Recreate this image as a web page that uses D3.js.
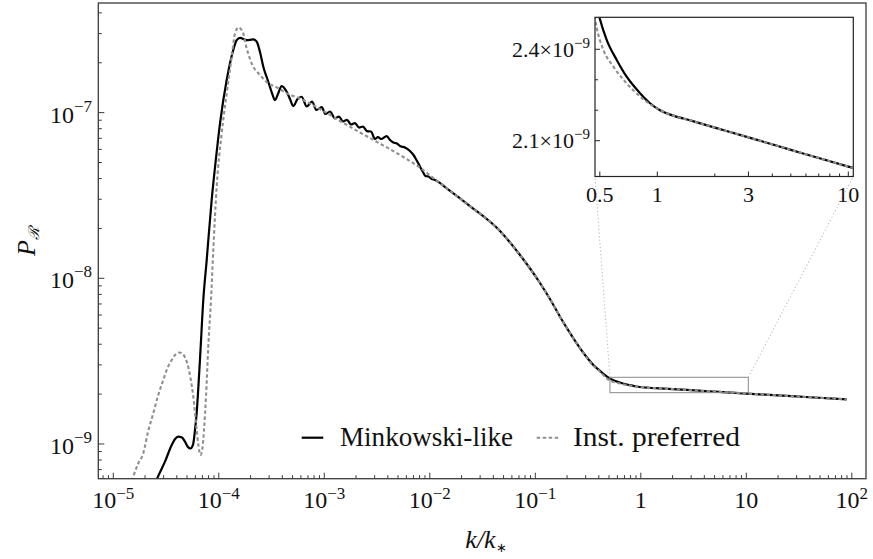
<!DOCTYPE html>
<html><head><meta charset="utf-8">
<script src="https://cdn.jsdelivr.net/npm/d3@7"></script>
<style>body{margin:0;background:#fff}svg{display:block}</style>
</head><body>
<svg id="c" width="873" height="559"></svg>
<script>
// ---- data ----
const kSolid = [2.48e-5,2.61e-5,3.09e-5,3.58e-5,3.85e-5,4.13e-5,4.48e-5,4.78e-5,5.10e-5,5.39e-5,5.69e-5,5.95e-5,6.17e-5,6.42e-5,6.63e-5,7.13e-5,7.68e-5,8.56e-5,9.41e-5,1.027e-4,1.188e-4,1.372e-4,1.478e-4,1.588e-4,1.838e-4,1.975e-4,2.123e-4,2.287e-4,2.458e-4,2.642e-4,2.945e-4,3.193e-4,3.409e-4,3.64e-4,3.946e-4,4.40e-4,4.73e-4,5.083e-4,5.57e-4,6.105e-4,6.81e-4,7.645e-4,8.435e-4,9.45e-4,1.027e-3,1.132e-3,1.263e-3,1.378e-3,1.504e-3,1.641e-3,1.791e-3,1.954e-3,2.132e-3,2.327e-3,2.539e-3,2.772e-3,3.024e-3,3.228e-3,3.447e-3,3.904e-3,4.195e-3,4.508e-3,4.887e-3,5.218e-3,5.818e-3,6.492e-3,7.007e-3,7.565e-3,8.075e-3,8.618e-3,9.10e-3,9.616e-3,1.042e-2,1.12e-2,1.445e-2,2.404e-2,4.628e-2,7.16e-2,0.1108,0.1378,0.1714,0.2042,0.2469,0.2959,0.3548,0.4106,0.468,0.5,0.543,0.613,0.691,0.812,0.916,1.033,1.19,1.5,2,3,5,7,10,20,40,89.5];
const pSolid = [5.73e-10,6.21e-10,7.82e-10,9.86e-10,1.072e-9,1.107e-9,1.094e-9,1.032e-9,9.59e-10,9.39e-10,9.86e-10,1.215e-9,1.532e-9,2.27e-9,3.21e-9,7.40e-9,1.289e-8,2.97e-8,5.32e-8,8.62e-8,1.573e-7,2.387e-7,2.743e-7,2.83e-7,2.743e-7,2.75e-7,2.77e-7,2.68e-7,2.32e-7,1.892e-7,1.536e-7,1.313e-7,1.191e-7,1.295e-7,1.447e-7,1.337e-7,1.208e-7,1.096e-7,1.208e-7,1.247e-7,1.089e-7,1.167e-7,1.037e-7,1.081e-7,9.81e-8,1.016e-7,9.24e-8,9.47e-8,8.84e-8,9.05e-8,8.48e-8,8.65e-8,8.13e-8,8.24e-8,7.74e-8,7.69e-8,6.93e-8,7.12e-8,6.93e-8,7.22e-8,6.83e-8,6.60e-8,6.51e-8,6.29e-8,6.16e-8,5.87e-8,5.55e-8,5.11e-8,4.72e-8,4.38e-8,4.14e-8,4.12e-8,3.98e-8,3.92e-8,3.49e-8,2.73e-8,1.93e-8,1.382e-8,9.37e-9,7.50e-9,5.86e-9,4.88e-9,4.05e-9,3.445e-9,3.0e-9,2.76e-9,2.575e-9,2.50e-9,2.431e-9,2.365e-9,2.31e-9,2.256e-9,2.223e-9,2.20e-9,2.184e-9,2.166e-9,2.143e-9,2.111e-9,2.070e-9,2.043e-9,2.015e-9,1.964e-9,1.914e-9,1.86e-9];

const kDashed = [1.44e-5,1.547e-5,1.714e-5,1.925e-5,2.133e-5,2.393e-5,2.653e-5,2.978e-5,3.263e-5,3.579e-5,3.93e-5,4.242e-5,4.628e-5,5.028e-5,5.39e-5,5.733e-5,6.17e-5,6.42e-5,6.708e-5,7.01e-5,7.24e-5,7.565e-5,7.95e-5,8.43e-5,8.87e-5,9.55e-5,1.065e-4,1.188e-4,1.326e-4,1.424e-4,1.53e-4,1.684e-4,1.838e-4,2.05e-4,2.458e-4,2.945e-4,3.538e-4,4.40e-4,5.883e-4,9.10e-4,1.408e-3,2.18e-3,3.138e-3,5.218e-3,8.68e-3,1.12e-2,1.445e-2,2.404e-2,4.628e-2,7.16e-2,0.1108,0.1378,0.1714,0.2042,0.2469,0.2959,0.3548,0.4106,0.468,0.482,0.522,0.589,0.691,0.812,0.993,1.12,1.5,2,3,5,7,10,20,40,89.5];
const pDashed = [5.50e-10,6.35e-10,7.57e-10,8.79e-10,1.181e-9,1.532e-9,1.949e-9,2.434e-9,2.875e-9,3.213e-9,3.492e-9,3.566e-9,3.445e-9,3.069e-9,2.502e-9,1.930e-9,1.215e-9,9.73e-10,8.58e-10,9.46e-10,1.215e-9,1.930e-9,3.866e-9,7.40e-9,1.482e-8,3.572e-8,7.50e-8,1.308e-7,2.175e-7,3.01e-7,3.263e-7,3.077e-7,2.443e-7,1.984e-7,1.686e-7,1.502e-7,1.421e-7,1.308e-7,1.216e-7,1.051e-7,8.90e-8,7.59e-8,6.67e-8,5.55e-8,4.50e-8,3.95e-8,3.49e-8,2.73e-8,1.93e-8,1.382e-8,9.37e-9,7.50e-9,5.86e-9,4.88e-9,4.05e-9,3.43e-9,2.97e-9,2.73e-9,2.51e-9,2.469e-9,2.398e-9,2.343e-9,2.288e-9,2.245e-9,2.206e-9,2.19e-9,2.166e-9,2.143e-9,2.111e-9,2.070e-9,2.043e-9,2.015e-9,1.964e-9,1.914e-9,1.86e-9];

const seriesNames = ["Minkowski-like", "Inst. preferred"];
const xTickValues = [1e-5,1e-4,1e-3,1e-2,1e-1,1,10,100];
const xTickLabels = ["10^-5","10^-4","10^-3","10^-2","10^-1","1","10","10^2"];
const yTickValues = [1e-9,1e-8,1e-7];
const yTickLabels = ["10^-9","10^-8","10^-7"];
const insetXTickValues = [0.5,1,3,10];
const insetXTickLabels = ["0.5","1","3","10"];
const insetXMinor = [2,4,5,6,7,8,9];
const insetYTickValues = [2.1e-9,2.4e-9];
const insetYTickLabels = ["2.1×10^-9","2.4×10^-9"];
const insetYMinor = [2.2e-9,2.3e-9];
const xDomain = [7.21e-6, 136.3];
const yDomain = [6.17e-10, 4.59e-7];
const insetXDomain = [0.4718, 10.62];
const insetYDomain = [1.9825e-9, 2.505e-9];
const zoomBoxK = [0.51, 10.45];
const zoomBoxP = [2.04e-9, 2.526e-9];

// ---- drawing ----
const svg = d3.select("#c");
const FONT = "'Liberation Serif','Times New Roman',serif";
const frameCol = "#3a3a3a";
const P = {l:98.3, r:866, t:3, b:478.7};
const x = d3.scaleLog().domain(xDomain).range([P.l, P.r]);
const y = d3.scaleLog().domain(yDomain).range([P.b, P.t]);

const defs = svg.append("defs");
defs.append("clipPath").attr("id","clipMain").append("rect")
  .attr("x",P.l).attr("y",P.t).attr("width",P.r-P.l).attr("height",P.b-P.t);

const solidData = d3.zip(kSolid, pSolid);
const dashedData = d3.zip(kDashed, pDashed);

const lineMain = d3.line().x(d=>x(d[0])).y(d=>y(d[1])).curve(d3.curveMonotoneX);
const gPlot = svg.append("g").attr("clip-path","url(#clipMain)");
gPlot.append("path").datum(solidData).attr("d",lineMain)
  .attr("fill","none").attr("stroke","#000").attr("stroke-width",2.2).attr("stroke-linejoin","round");
gPlot.append("path").datum(dashedData).attr("d",lineMain)
  .attr("fill","none").attr("stroke","#8f8f8f").attr("stroke-width",2.1).attr("stroke-dasharray","3.5,2.5");

// frame
svg.append("rect").attr("x",P.l).attr("y",P.t).attr("width",P.r-P.l).attr("height",P.b-P.t)
  .attr("fill","none").attr("stroke",frameCol).attr("stroke-width",1.3);

function supLabel(sel, str, size, supSize, rise){
  const parts = str.split("^");
  sel.append("tspan").text(parts[0]);
  if(parts.length>1){
    sel.append("tspan").attr("font-size",supSize).attr("dy",-rise).text(parts[1].replace("-","\u2212"));
  }
}

// x ticks
const xMinor = [];
for(let e=-6;e<=2;e++) for(let m=2;m<=9;m++){const v=m*Math.pow(10,e); if(v>=xDomain[0]&&v<=xDomain[1]) xMinor.push(v);}
svg.append("g").selectAll("line.xm").data(xMinor).join("line")
  .attr("x1",d=>x(d)).attr("x2",d=>x(d)).attr("y1",P.b).attr("y2",P.b-3.5)
  .attr("stroke",frameCol).attr("stroke-width",1);
svg.append("g").selectAll("line.xM").data(xTickValues).join("line")
  .attr("x1",d=>x(d)).attr("x2",d=>x(d)).attr("y1",P.b).attr("y2",P.b-6)
  .attr("stroke",frameCol).attr("stroke-width",1);
xTickValues.forEach((v,i)=>{
  const t = svg.append("text").attr("x",x(v)).attr("y",508.3).attr("text-anchor","middle")
    .attr("font-family",FONT).attr("font-size",24).attr("fill","#111");
  supLabel(t, xTickLabels[i], 24, 17, 9);
});

// y ticks
const yMinor = [];
for(let e=-10;e<=-7;e++) for(let m=2;m<=9;m++){const v=m*Math.pow(10,e); if(v>=yDomain[0]&&v<=yDomain[1]) yMinor.push(v);}
svg.append("g").selectAll("line").data(yMinor).join("line")
  .attr("x1",P.l).attr("x2",P.l+3.5).attr("y1",d=>y(d)).attr("y2",d=>y(d))
  .attr("stroke",frameCol).attr("stroke-width",1);
svg.append("g").selectAll("line").data(yTickValues).join("line")
  .attr("x1",P.l).attr("x2",P.l+6).attr("y1",d=>y(d)).attr("y2",d=>y(d))
  .attr("stroke",frameCol).attr("stroke-width",1);
yTickValues.forEach((v,i)=>{
  const t = svg.append("text").attr("x",92).attr("y",y(v)+10).attr("text-anchor","end")
    .attr("font-family",FONT).attr("font-size",24).attr("fill","#111");
  supLabel(t, yTickLabels[i], 24, 17, 11);
});

// axis titles
const xt = svg.append("text").attr("x",486).attr("y",548).attr("text-anchor","middle")
  .attr("font-family",FONT).attr("font-size",26).attr("fill","#111");
xt.append("tspan").attr("font-style","italic").text("k/k");
xt.append("tspan").attr("font-size",13).attr("dy",4).text("∗");

const yt = svg.append("text").attr("transform","translate(35,256) rotate(-90)")
  .attr("font-family",FONT).attr("font-size",26).attr("fill","#111");
yt.append("tspan").attr("font-style","italic").text("P");
yt.append("tspan").attr("font-size",15).attr("dy",4).attr("font-family","'DejaVu Serif',serif").attr("font-style","italic").text("ℛ");

// zoom box + connectors
const bx0 = x(zoomBoxK[0]), bx1 = x(zoomBoxK[1]), by0 = y(zoomBoxP[1]), by1 = y(zoomBoxP[0]);
svg.append("rect").attr("x",bx0).attr("y",by0).attr("width",bx1-bx0).attr("height",by1-by0)
  .attr("fill","none").attr("stroke","#8a8a8a").attr("stroke-width",1);

// inset
const I = {l:595, r:853.3, t:17.3, b:176.5};
const xi = d3.scaleLog().domain(insetXDomain).range([I.l, I.r]);
const yi = d3.scaleLinear().domain(insetYDomain).range([I.b, I.t]);
svg.append("line").attr("x1",bx0).attr("y1",by0).attr("x2",I.l).attr("y2",I.b)
  .attr("stroke","#bdbdbd").attr("stroke-width",1.1).attr("stroke-dasharray","1.2,2.4");
svg.append("line").attr("x1",bx1).attr("y1",by0).attr("x2",I.r).attr("y2",I.b)
  .attr("stroke","#bdbdbd").attr("stroke-width",1.1).attr("stroke-dasharray","1.2,2.4");

defs.append("clipPath").attr("id","clipInset").append("rect")
  .attr("x",I.l).attr("y",I.t).attr("width",I.r-I.l).attr("height",I.b-I.t);
const lineInset = d3.line().x(d=>xi(d[0])).y(d=>yi(d[1])).curve(d3.curveMonotoneX);
const gi = svg.append("g").attr("clip-path","url(#clipInset)");
gi.append("path").datum(solidData.filter(d=>d[0]>0.2&&d[0]<30)).attr("d",lineInset)
  .attr("fill","none").attr("stroke","#000").attr("stroke-width",2.2);
gi.append("path").datum(dashedData.filter(d=>d[0]>0.2&&d[0]<30)).attr("d",lineInset)
  .attr("fill","none").attr("stroke","#8f8f8f").attr("stroke-width",2.1).attr("stroke-dasharray","3.5,2.5");
svg.append("rect").attr("x",I.l).attr("y",I.t).attr("width",I.r-I.l).attr("height",I.b-I.t)
  .attr("fill","none").attr("stroke","#222").attr("stroke-width",1.2);

svg.append("g").selectAll("line").data(insetXMinor).join("line")
  .attr("x1",d=>xi(d)).attr("x2",d=>xi(d)).attr("y1",I.b).attr("y2",I.b-3)
  .attr("stroke","#222").attr("stroke-width",1);
svg.append("g").selectAll("line").data(insetXTickValues).join("line")
  .attr("x1",d=>xi(d)).attr("x2",d=>xi(d)).attr("y1",I.b).attr("y2",I.b-5)
  .attr("stroke","#222").attr("stroke-width",1);
insetXTickValues.forEach((v,i)=>{
  svg.append("text").attr("x",xi(v)).attr("y",202.3).attr("text-anchor","middle")
    .attr("font-family",FONT).attr("font-size",22).attr("fill","#111").text(insetXTickLabels[i]);
});
svg.append("g").selectAll("line").data(insetYMinor).join("line")
  .attr("x1",I.l).attr("x2",I.l+3).attr("y1",d=>yi(d)).attr("y2",d=>yi(d))
  .attr("stroke","#222").attr("stroke-width",1);
svg.append("g").selectAll("line").data(insetYTickValues).join("line")
  .attr("x1",I.l).attr("x2",I.l+5).attr("y1",d=>yi(d)).attr("y2",d=>yi(d))
  .attr("stroke","#222").attr("stroke-width",1);
insetYTickValues.forEach((v,i)=>{
  const t = svg.append("text").attr("x",590).attr("y",yi(v)+7.5).attr("text-anchor","end")
    .attr("font-family",FONT).attr("font-size",22).attr("fill","#111");
  supLabel(t, insetYTickLabels[i], 22, 15, 9);
});

// legend
const lg = svg.append("g");
lg.append("line").attr("x1",301.7).attr("x2",323.3).attr("y1",437.7).attr("y2",437.7)
  .attr("stroke","#000").attr("stroke-width",2.2);
lg.append("text").attr("x",340).attr("y",445.7).attr("font-family",FONT).attr("font-size",27)
  .attr("fill","#111").attr("textLength",173).attr("lengthAdjust","spacingAndGlyphs").text(seriesNames[0]);
lg.append("line").attr("x1",536.7).attr("x2",560).attr("y1",437.7).attr("y2",437.7)
  .attr("stroke","#8f8f8f").attr("stroke-width",2.1).attr("stroke-dasharray","3.5,2.5");
lg.append("text").attr("x",573).attr("y",445.7).attr("font-family",FONT).attr("font-size",27)
  .attr("fill","#111").attr("textLength",167).attr("lengthAdjust","spacingAndGlyphs").text(seriesNames[1]);
</script>
</body></html>
